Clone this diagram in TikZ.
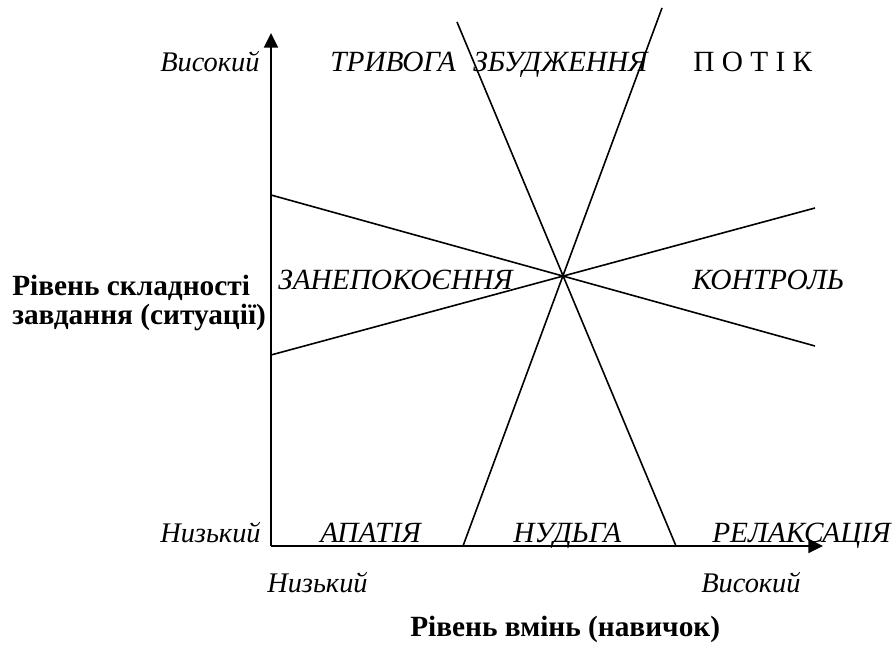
\documentclass[tikz,border=0pt]{standalone}
\usepackage{fontspec}
\setmainfont{Liberation Serif}
\usepackage{tikz}
\usetikzlibrary{arrows.meta,positioning}
\definecolor{cInk}{HTML}{000000}
\tikzset{
  >={Triangle[length=11pt,width=10.5pt]},
  ax/.style ={->,line width=1.5pt,cInk},
  ln/.style ={line width=1.2pt,cInk},
  zone/.style={anchor=base west,inner sep=0pt,font=\fontsize{22}{26}\selectfont\itshape},
  lvl/.style ={anchor=base west,inner sep=0pt,font=\fontsize{21.3}{26}\selectfont\itshape},
  ttl/.style ={anchor=base west,inner sep=0pt,font=\fontsize{22}{21.75}\selectfont\bfseries},
}
\begin{document}
\begin{tikzpicture}[x=0.75pt,y=-0.75pt]
\useasboundingbox (0,0) rectangle (894,652);
% axes
\coordinate (o)  at (271,546);
\coordinate (yt) at (271,33);
\coordinate (xt) at (823,546);
\draw[ax] (o)--(yt);
\draw[ax] (o)--(xt);
% four lines through one point
\coordinate (ca) at (271,195); \coordinate (cb) at (815,346);
\coordinate (cc) at (271,355); \coordinate (cd) at (815,208);
\coordinate (sa) at (457,22);  \coordinate (sb) at (676,546);
\coordinate (sc) at (662,8);   \coordinate (sd) at (463,546);
\draw[ln] (ca)--(cb); \draw[ln] (cc)--(cd);
\draw[ln] (sa)--(sb); \draw[ln] (sc)--(sd);
% zones
\node[lvl]  (yhi)  at (160,72)  {Високий};
\node[zone] (trv)  at (330,72)  {ТРИВОГА};
\node[zone] (zbd)  at (473,72)  {ЗБУДЖЕННЯ};
\node[zone,font=\fontsize{22}{26}\selectfont\upshape] (ptk) at (693,72) {П О Т І К};
\node[zone] (znp)  at (278,290) {ЗАНЕПОКОЄННЯ};
\node[zone] (ktr)  at (692,290) {КОНТРОЛЬ};
\node[lvl]  (ylo)  at (160,543) {Низький};
\node[zone] (apt)  at (320,543) {АПАТІЯ};
\node[zone] (nud)  at (513,543) {НУДЬГА};
\node[zone] (rlx)  at (712,543) {РЕЛАКСАЦІЯ};
\node[lvl]  (xlo)  at (267,593) {Низький};
\node[lvl]  (xhi)  at (701,593) {Високий};
% axis titles
\node[ttl,anchor=north west,align=left] (ytl) at (12,275)
 {Рівень складності\\завдання (ситуації)};
\node[ttl] (xtl) at (410,637) {Рівень вмінь (навичок)};
\end{tikzpicture}
\end{document}
